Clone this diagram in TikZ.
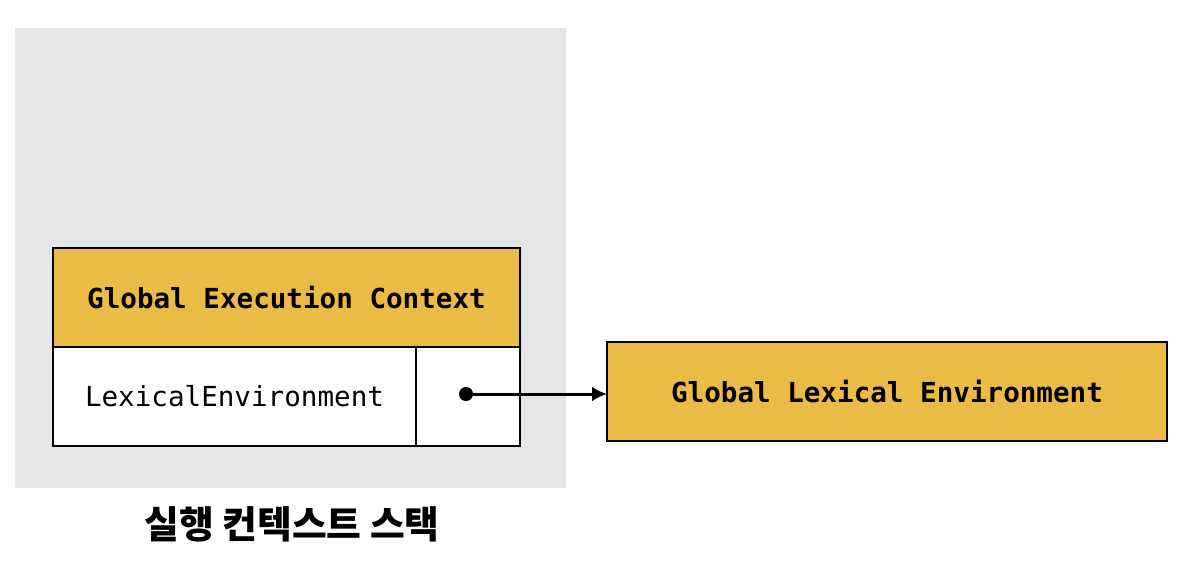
\documentclass[tikz,border=0pt]{standalone}
\usepackage{fontspec}
\setmonofont{DejaVu Sans Mono}
\newfontfamily\kofont{Noto Sans CJK KR}
\usepackage{tikz}
\usetikzlibrary{arrows.meta, positioning, calc}

\definecolor{stackgray}{HTML}{E6E5E6}
\definecolor{envyellow}{HTML}{EABC46}

\tikzset{
  cell/.style={draw=black, line width=1.1pt, inner sep=0pt, outer sep=0pt, anchor=north west},
  headcell/.style={cell, fill=envyellow, font=\ttfamily\bfseries\fontsize{15.7}{18}\selectfont},
  bodycell/.style={cell, fill=white, font=\ttfamily\fontsize{15.7}{18}\selectfont},
}

\begin{document}
\begin{tikzpicture}
  \useasboundingbox (0,0) rectangle (23.68,-11.2);
  % Stack area
  \fill[stackgray] (0.30,-0.56) rectangle (11.32,-9.76);

  % Global execution context
  \node[headcell, minimum width=9.34cm, minimum height=1.98cm] (gec) at (1.06,-4.96) {Global Execution Context};
  \node[bodycell, minimum width=7.26cm, minimum height=1.98cm] (lexenv) at (gec.south west) {LexicalEnvironment};
  \node[bodycell, minimum width=2.08cm, minimum height=1.98cm] (ptr) at (lexenv.north east) {};

  % Global lexical environment
  \node[headcell, anchor=west, minimum width=11.2cm, minimum height=1.98cm] (gle) at (12.14,-7.83) {Global Lexical Environment};

  % Reference
  \coordinate (dot) at ([xshift=-0.04cm, yshift=0.05cm]ptr.center);
  \fill (dot) circle (0.14);
  \draw[line width=1.7pt, -{Latex[length=3mm, width=3mm]}] (dot) -- (gle.west |- dot);

  \node[font=\kofont\bfseries\fontsize{21.5}{26}\selectfont] (stack) at (5.84,-10.48) {실행 컨텍스트 스택};
\end{tikzpicture}
\end{document}
